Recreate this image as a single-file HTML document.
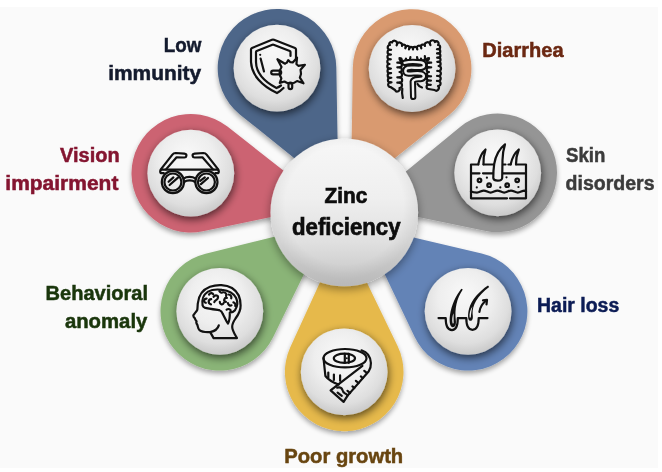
<!DOCTYPE html>
<html><head><meta charset="utf-8"><style>
html,body{margin:0;padding:0;background:#fff;}
svg{display:block;}
text{font-family:"Liberation Sans",sans-serif;font-weight:bold;}
.ic{fill:none;stroke:#111;stroke-width:2.2;stroke-linecap:round;}

</style></head><body>
<svg width="662" height="472" viewBox="0 0 662 472">
<defs>
<filter id="psh" x="-30%" y="-30%" width="160%" height="160%">
 <feGaussianBlur in="SourceAlpha" stdDeviation="2.5"/>
 <feOffset dx="0" dy="3" result="b"/>
 <feComponentTransfer><feFuncA type="linear" slope="0.35"/></feComponentTransfer>
 <feMerge><feMergeNode/><feMergeNode in="SourceGraphic"/></feMerge>
</filter>
<filter id="wsh" x="-40%" y="-40%" width="180%" height="180%">
 <feGaussianBlur in="SourceAlpha" stdDeviation="4.5"/>
 <feOffset dx="1.2" dy="3" result="b"/>
 <feComponentTransfer><feFuncA type="linear" slope="0.62"/></feComponentTransfer>
 <feMerge><feMergeNode/><feMergeNode in="SourceGraphic"/></feMerge>
</filter>
<filter id="csh" x="-40%" y="-40%" width="180%" height="180%">
 <feGaussianBlur in="SourceAlpha" stdDeviation="5"/>
 <feOffset dx="0" dy="3" result="b"/>
 <feComponentTransfer><feFuncA type="linear" slope="0.4"/></feComponentTransfer>
 <feMerge><feMergeNode/><feMergeNode in="SourceGraphic"/></feMerge>
</filter>
<radialGradient id="wg" cx="0.48" cy="0.4" r="0.62" fx="0.45" fy="0.28">
 <stop offset="0" stop-color="#f8f8f8"/>
 <stop offset="0.5" stop-color="#eeeeee"/>
 <stop offset="0.8" stop-color="#dedede"/>
 <stop offset="1" stop-color="#c6c6c6"/>
</radialGradient>
<linearGradient id="cg" x1="0" y1="0" x2="0" y2="1">
 <stop offset="0" stop-color="#f7f7f7"/>
 <stop offset="0.4" stop-color="#efefef"/>
 <stop offset="0.7" stop-color="#e0e0e0"/>
 <stop offset="0.9" stop-color="#cdcdcd"/>
 <stop offset="1" stop-color="#c4c4c4"/>
</linearGradient>
<radialGradient id="cg2" cx="0.5" cy="0.45" r="0.5">
 <stop offset="0.8" stop-color="#000" stop-opacity="0"/>
 <stop offset="1" stop-color="#000" stop-opacity="0.06"/>
</radialGradient>
</defs>
<rect x="0" y="0" width="662" height="472" fill="#ffffff"/>
<rect x="0" y="7" width="658" height="461" fill="#fafafa"/>

<path d="M344.30 212.50 L351.13 204.02 L239.81 114.39 A59.3 59.3 0 1 1 336.29 67.17 L338.83 212.60 Z" fill="#4e6689" filter="url(#psh)"/>
<path d="M344.30 212.50 L350.52 212.60 L352.81 67.56 A59.3 59.3 0 1 1 449.06 114.88 L337.41 203.85 Z" fill="#d99a70" filter="url(#psh)"/>
<path d="M344.30 212.50 L348.93 218.14 L460.09 126.95 A59.3 59.3 0 1 1 485.81 230.90 L346.38 202.36 Z" fill="#959595" filter="url(#psh)"/>
<path d="M344.30 212.50 L342.34 220.82 L481.67 253.57 A59.3 59.3 0 1 1 414.58 336.83 L353.23 208.24 Z" fill="#6483b6" filter="url(#psh)"/>
<path d="M344.30 212.50 L335.16 216.91 L397.59 346.10 A59.3 59.3 0 1 1 290.28 347.22 L350.63 215.40 Z" fill="#e6b94c" filter="url(#psh)"/>
<path d="M344.30 212.50 L336.06 208.47 L273.08 337.34 A59.3 59.3 0 1 1 205.57 253.73 L345.92 219.04 Z" fill="#8ab477" filter="url(#psh)"/>
<path d="M344.30 212.50 L342.18 202.29 L202.88 231.26 A59.3 59.3 0 1 1 227.41 126.55 L341.50 216.07 Z" fill="#cc6372" filter="url(#psh)"/>
<circle cx="277.0" cy="68.2" r="43.4" fill="url(#wg)" filter="url(#wsh)"/>
<circle cx="412.1" cy="68.5" r="43.4" fill="url(#wg)" filter="url(#wsh)"/>
<circle cx="497.7" cy="172.8" r="43.4" fill="url(#wg)" filter="url(#wsh)"/>
<circle cx="468.1" cy="311.3" r="43.4" fill="url(#wg)" filter="url(#wsh)"/>
<circle cx="344.2" cy="371.9" r="43.4" fill="url(#wg)" filter="url(#wsh)"/>
<circle cx="219.8" cy="311.3" r="43.4" fill="url(#wg)" filter="url(#wsh)"/>
<circle cx="190.8" cy="173.2" r="43.4" fill="url(#wg)" filter="url(#wsh)"/>
<circle cx="344.3" cy="212.5" r="73.8" fill="url(#cg)" filter="url(#csh)"/>
<circle cx="344.3" cy="212.5" r="73.8" fill="url(#cg2)"/>
<g class="ic">
<path d="M296 60 L296 49.5 Q296 48.4 295 48 L274 39.8 Q273 39.4 272 39.8 L252 48 Q251 48.4 251 49.5 L251 62 C251.5 75 262 86 277 93 C279 92 281 90.5 283.5 88"/>
<path d="M290.5 56 L290.5 52 Q290.5 51.3 289.8 51 L273.6 44.8 Q273 44.6 272.4 44.8 L256.7 51 Q256 51.3 256 52 L256 62 C256.2 72.5 264 81.5 276.5 88 C278 87.4 279.5 86.6 281 85.5"/>
<path d="M260.6 58.5 L264 71.5"/>
</g>
<circle cx="260.2" cy="54.8" r="1.1" fill="#111"/>
<g class="ic" fill="#f1f1f1" stroke-linejoin="round" stroke-width="2.1">
<rect x="271.2" y="70.7" width="10" height="3.7" rx="1.85"/>
<rect x="288.5" y="82.5" width="3.7" height="6.6" rx="1.85"/>
<path d="M281.54 66.98 L277.41 59.21 L284.99 63.69 A10.6 10.6 0 0 1 286.77 62.84 L288.18 60.19 L290.40 62.20 A10.6 10.6 0 0 1 292.73 62.46 L297.03 57.69 L296.43 64.09 A10.6 10.6 0 0 1 298.40 65.85 L304.92 64.75 L300.54 69.70 A10.6 10.6 0 0 1 299.87 77.56 L303.51 83.30 L297.11 81.00 A10.6 10.6 0 0 1 284.38 81.53 L279.79 82.83 L281.35 78.32 A10.6 10.6 0 0 1 281.54 66.98 Z"/>
</g>

<g class="ic" stroke-linejoin="round">
<path d="M471 164.5 L478.3 164.5 M483.5 164.5 L493.6 164.5 M502.6 164.5 L505.5 164.5 M508.4 164.5 L510.7 164.5 M516 164.5 L526 164.5 L526 198.3 L510 198.3 M507 198.3 L471 198.3 L471 164.5"/>
<path d="M471 173.3 L479.5 173.3 M483 173.3 L493.4 173.3 M502.3 173.3 L526 173.3"/>
<path d="M471 191.40 C473 192.60 475 192.60 477 192.60 C479.55 192.60 481.25 190.60 483.80 190.60 C486.35 190.60 488.05 192.60 490.60 192.60 C493.15 192.60 494.85 190.60 497.40 190.60 C499.95 190.60 501.65 192.60 504.20 192.60 C506.75 192.60 508.45 190.60 511.00 190.60 C513.55 190.60 515.25 192.60 517.80 192.60 C520.35 192.60 522.05 190.60 524.60 190.60 L526 191.60"/>
<path d="M478.3 164.3 C479.5 158 481.5 153 485.5 149.5 C484 154 483.3 159 483.5 164.3"/>
<path d="M510.7 164.3 C512 158 514.5 153 518.8 149.5 C517 154 515.8 159 516 164.3"/>
<path d="M505 144.3 C499 149 495.5 156 494.2 164 C493.5 169 493.2 174 493.3 178 C493.8 181.5 501.8 181.5 502.2 178 L502.5 160 C502.6 154 503.5 149 505 144.3 Z" fill="#f0f0f0"/>
<circle cx="479.5" cy="180.3" r="1.8"/><circle cx="489.1" cy="185.2" r="1.8"/><circle cx="507.2" cy="185.2" r="1.8"/><circle cx="517.2" cy="180.3" r="1.8"/>

</g>
<g fill="#111"><circle cx="486.9" cy="177.7" r="1.1"/><circle cx="476.8" cy="187.4" r="1.1"/><circle cx="500.3" cy="187.4" r="1.1"/><circle cx="506.5" cy="177.3" r="1.1"/><circle cx="518.4" cy="187" r="1.1"/></g>

<g class="ic" stroke-linejoin="round">
<path d="M438.5 318.1 L445.7 318.1 C445.7 326 448 330.2 452 330.2 C456 330.2 457.8 326 457.8 318.1 L466.3 318.1 C466.3 326 468.5 329.8 472.5 329.8 C476.5 329.8 478.7 326 478.7 318.1 L487.5 318.1"/>
<path d="M479.4 311.8 C480 307.5 482 304 485.6 301"/>
<path d="M483 300.4 L487 299.8 L486.5 304.4"/>
</g>
<g fill="#111">
<path d="M461.3 288.8 C456 295.5 451.5 305 450 315 C449.3 320 449.4 326.8 452.6 327.2 C455.8 327.4 456.3 323.5 455.8 320 C455.2 315 455.3 309 456.5 304 C457.6 299 459.8 294 462.8 289.6 Z"/>
<path d="M488 285.6 C479 291.5 471.5 300 469 309 C467.8 313.5 467.4 320.6 470.2 320.8 C473 321 473.2 317.5 472.6 314 C472.4 310 473.5 305 476 301 C479 296 483.5 291 489.2 287 Z"/>
</g>
<g fill="#f0f0f0">
<path d="M452.6 323.6 C451.8 320 452.2 316 453.6 313.2 C453.6 317 453.6 320.5 453.7 323.3 Z"/>
<path d="M469.6 317.6 C469.2 313.5 470.2 309.5 472.4 306.5 C471.6 310 471 314 470.8 317.5 Z"/>
</g>

<g class="ic" stroke-linejoin="round">
<ellipse cx="345" cy="358.2" rx="21.5" ry="9.2"/>
<ellipse cx="344.4" cy="358.3" rx="10.6" ry="4.6"/>
<path d="M344.8 353.8 L344.8 362.8 M348.8 353.8 L348.8 362.8"/>
<path d="M361.5 350.3 C367 352 370.5 357 370.9 363 C371 367 370.2 369.2 368.8 371.2 L347.6 395.6 L343.6 401.9 L330.6 390.4 L362.4 365.8"/>
<path d="M323.5 358.2 L325.4 376 C328.5 380 333.5 382.6 338.6 384.6"/>
<path d="M328.3 372.6 L328.3 377.8 M333.9 374.6 L333.9 380 M340.1 375.4 L340.1 380.8"/>
<path d="M366.90 373.00 L364.30 370.81 M362.70 378.00 L360.86 376.46 M358.50 383.00 L355.90 380.81 M354.30 388.00 L352.46 386.46 M350.10 393.00 L347.50 390.81"/>
<path d="M337.2 387.6 C339.5 387 341.5 387.8 342.2 389.5 C342.8 391.5 343.2 392.6 344.8 393.2 C346 393.6 347 394.4 347.6 395.6"/>
<path d="M337.6 392.6 L341.8 395.8"/>
</g>
<circle cx="346.8" cy="358.3" r="1" fill="#111"/>
<g class="ic" stroke-linejoin="round">
<path d="M213.6 338.1 L237 338.1 C235 334.5 232.4 331 232.2 327 C232 324 233.5 321.5 235.5 318.5 C238.5 314.5 240.8 310.5 240.6 305.5 C240.6 298.5 237.5 291.5 232 288 C226 284.4 217 284.2 210 286.8 C203 289.5 198.5 296 197.8 303.5 C197.6 305.5 197.6 307.5 197.3 309.8 C196.5 311.5 194.5 313.5 193.3 315.4 C193.2 316.5 194 317.6 194.9 318.4 C195 319.3 195.6 320.3 196.6 321.2 C195.8 322.5 196.5 323.8 197.4 325 C198 326.5 197.8 328.8 199.5 330.2 C201.5 331.8 205.5 332.4 210.2 332.1 Z"/>
<path d="M218.8 325.4 C217.8 329 214.5 331.2 210.2 332.1"/>
<path d="M202.6 305.4 C201.4 300 203.5 294.5 208 291.6 C212 289.4 217.5 289.2 222 289.8 C228 290.4 233.5 293.2 236 297.8 C237.8 301.5 237.5 306.5 235 310.2 C233.5 312 231.5 312.6 229.8 312.6 C229.9 316.5 229.6 320.5 228 323.6 C226 321 224.5 317 222.6 313.6 C222 311.6 221 310.6 219.5 310.2 C214 309.4 208 308.6 204.5 307.6 C203.5 307.2 203 306.5 202.6 305.4 Z"/>
<path d="M209 294.6 C210 292.8 212.5 292.6 213.2 294.2 M206.6 298.6 C203.6 298.6 203.2 302.2 205.8 302.8 M211.2 299.2 C208 299.4 207.8 303.8 211 304.3 M213.6 296.8 C215.5 294.4 218.6 295.4 217.9 298 C217.3 300.2 214.6 300 214.3 302.2 M219.4 291.2 C220.5 292.9 222 293.1 223 292.2 M226.9 297.9 C224 297.5 223.1 301.1 225.9 301.9 M219.8 301.9 C219.8 304.6 222.9 305.3 223.7 303 M228.6 294.5 C230.6 294.7 231.9 296.4 231.2 298.3 M227.9 303 C228.3 305.1 230 306.1 231.5 305.3 M233.4 302.4 C235 302.8 235.8 304.4 235.2 306 M226.6 309.6 C228.4 308.4 231.1 309.1 230.7 311.3 M224.6 292.5 C226 292.9 226.8 294.5 226 296.1"/>
</g>

<g class="ic" stroke-linejoin="round">
<path d="M163.8 173.2 L162 173.2 Q160.2 173.2 160.2 171.4 Q160.2 169.6 162 169.6 L217 169.6 Q218.8 169.6 218.8 171.4 Q218.8 173.2 217 173.2 L215.4 173.2"/>
<path d="M160.8 169.4 L172.4 154.6 Q173.6 153 175.6 153 L184.4 153.6 Q186.6 153.9 186.4 155.8 Q186.1 157.7 184 157.5 L176.6 157.3 L166 169.4"/>
<path d="M218.2 169.4 L206.6 154.6 Q205.4 153 203.4 153 L194.6 153.6 Q192.4 153.9 192.6 155.8 Q192.9 157.7 195 157.5 L202.4 157.3 L213 169.4"/>
<circle cx="172.9" cy="182" r="11.1"/><circle cx="172.9" cy="182" r="8.5"/>
<circle cx="206.4" cy="182" r="11.1"/><circle cx="206.4" cy="182" r="8.5"/>
<path d="M183.6 178.6 C186.5 176.4 192.5 176.4 195.6 178.6 M184 182 C187 179.8 192.2 179.8 195.2 182"/>
<path d="M168.6 181.8 L173.4 177.4 M169.6 185 L178 177.6 M200.2 180.8 L204.8 177.4 M200.9 184.2 L208 178"/>
</g>

<path class="ic" stroke-linejoin="round" stroke-width="2.4" d="M390.50 87.00 A2.30 2.30 0 0 1 390.30 82.40 A2.30 2.30 0 0 1 390.10 77.80 A2.30 2.30 0 0 1 389.90 73.20 A2.30 2.30 0 0 1 389.70 68.60 A2.30 2.30 0 0 1 389.50 64.00 A2.38 2.38 0 0 1 389.62 59.25 A2.38 2.38 0 0 1 389.75 54.50 A2.38 2.38 0 0 1 389.88 49.75 A2.38 2.38 0 0 1 390.00 45.00 A1.60 1.60 0 0 1 392.00 42.50 A2.65 2.65 0 0 1 397.00 44.25 A2.65 2.65 0 0 1 402.00 46.00 A1.92 1.92 0 0 1 405.67 47.17 A1.92 1.92 0 0 1 409.33 48.33 A1.92 1.92 0 0 1 413.00 49.50 A2.08 2.08 0 0 1 417.00 48.33 A2.08 2.08 0 0 1 421.00 47.17 A2.08 2.08 0 0 1 425.00 46.00 A2.69 2.69 0 0 1 430.00 44.00 A2.69 2.69 0 0 1 435.00 42.00 A2.12 2.12 0 0 1 438.00 45.00 A2.10 2.10 0 0 1 438.12 49.20 A2.10 2.10 0 0 1 438.24 53.40 A2.10 2.10 0 0 1 438.36 57.60 A2.10 2.10 0 0 1 438.48 61.80 A2.10 2.10 0 0 1 438.60 66.00 A2.50 2.50 0 0 1 438.45 71.00 A2.50 2.50 0 0 1 438.30 76.00 A2.50 2.50 0 0 1 438.15 81.00 A2.50 2.50 0 0 1 438.00 86.00 A2.66 2.66 0 0 1 434.50 90.00 L428.50 89.00 A2.13 2.13 0 0 1 428.62 84.75 A2.13 2.13 0 0 1 428.75 80.50 A2.13 2.13 0 0 1 428.88 76.25 A2.13 2.13 0 0 1 429.00 72.00 A2.33 2.33 0 0 1 429.00 67.33 A2.33 2.33 0 0 1 429.00 62.67 A2.33 2.33 0 0 1 429.00 58.00 A2.00 2.00 0 0 1 425.00 58.25 A2.00 2.00 0 0 1 421.00 58.50 A1.79 1.79 0 0 1 417.50 59.25 A1.79 1.79 0 0 1 414.00 60.00 A2.03 2.03 0 0 1 410.00 59.25 A2.03 2.03 0 0 1 406.00 58.50 A3.26 3.26 0 0 1 399.50 58.00 A2.33 2.33 0 0 1 399.50 62.67 A2.33 2.33 0 0 1 399.50 67.33 A2.33 2.33 0 0 1 399.50 72.00 A2.67 2.67 0 0 1 399.50 77.33 A2.67 2.67 0 0 1 399.50 82.67 A2.67 2.67 0 0 1 399.50 88.00 A2.46 2.46 0 0 1 395.00 90.00 L390.50 87.00 Z"/><path class="ic" d=" M390.30 82.40 L391.51 82.35 M390.10 77.80 L391.31 77.75 M389.90 73.20 L391.11 73.15 M389.70 68.60 L390.91 68.55 M389.62 59.25 L390.83 59.28 M389.75 54.50 L390.96 54.53 M389.88 49.75 L391.08 49.78 M397.00 44.25 L396.60 45.39 M405.67 47.17 L405.30 48.32 M409.33 48.33 L408.97 49.49 M417.00 48.33 L417.34 49.49 M421.00 47.17 L421.34 48.33 M430.00 44.00 L430.45 45.12 M438.12 49.20 L436.91 49.23 M438.24 53.40 L437.03 53.43 M438.36 57.60 L437.15 57.63 M438.48 61.80 L437.27 61.83 M438.45 71.00 L437.24 70.96 M438.30 76.00 L437.09 75.96 M438.15 81.00 L436.94 80.96 M428.62 84.75 L430.82 84.81 M428.75 80.50 L430.95 80.56 M428.88 76.25 L431.07 76.31 M429.00 67.33 L431.20 67.33 M429.00 62.67 L431.20 62.67 M425.00 58.25 L424.86 56.05 M417.50 59.25 L417.04 57.10 M410.00 59.25 L410.41 57.09 M399.50 62.67 L397.30 62.67 M399.50 67.33 L397.30 67.33 M399.50 77.33 L397.30 77.33 M399.50 82.67 L397.30 82.67"/><g fill="none" stroke-linecap="round" stroke-linejoin="round">
<path d="M404.5 62.8 C410 61.5 416 61.8 421 62.5 C425 63.2 425 67.5 421 67.8 C416 68.2 411 67 407.5 68 C404.2 69.5 404.8 73.5 408.5 73.6 C413 73.7 418 72.6 421.5 73.6 C425 75 424.5 78.6 420.5 79 C417 79.4 413.5 78.8 412.8 81.5 L413.2 96.8" stroke="#111" stroke-width="6.4"/>
<path d="M404.5 62.8 C410 61.5 416 61.8 421 62.5 C425 63.2 425 67.5 421 67.8 C416 68.2 411 67 407.5 68 C404.2 69.5 404.8 73.5 408.5 73.6 C413 73.7 418 72.6 421.5 73.6 C425 75 424.5 78.6 420.5 79 C417 79.4 413.5 78.8 412.8 81.5 L413.2 96.8" stroke="#f0f0f0" stroke-width="2.4"/>
<path d="M417.5 84 C418.5 86 420 87 422 87.5 M402.3 88.5 C401.8 92 402 95 402.8 98" stroke="#111" stroke-width="2.2"/>
</g>

<text x="163.80" y="52.20" fill="#141b2e" stroke="#141b2e" stroke-width="0.5" font-size="20.3" textLength="37.60" lengthAdjust="spacingAndGlyphs">Low</text>
<text x="108.20" y="80.20" fill="#141b2e" stroke="#141b2e" stroke-width="0.5" font-size="20.3" textLength="93.00" lengthAdjust="spacingAndGlyphs">immunity</text>
<text x="482.20" y="56.80" fill="#6b2812" stroke="#6b2812" stroke-width="0.5" font-size="20.3" textLength="81.40" lengthAdjust="spacingAndGlyphs">Diarrhea</text>
<text x="566.00" y="161.80" fill="#3b3b3b" stroke="#3b3b3b" stroke-width="0.5" font-size="20.3" textLength="39.30" lengthAdjust="spacingAndGlyphs">Skin</text>
<text x="565.60" y="189.90" fill="#3b3b3b" stroke="#3b3b3b" stroke-width="0.5" font-size="20.3" textLength="88.90" lengthAdjust="spacingAndGlyphs">disorders</text>
<text x="537.00" y="311.90" fill="#0c1c55" stroke="#0c1c55" stroke-width="0.5" font-size="20.3" textLength="82.20" lengthAdjust="spacingAndGlyphs">Hair loss</text>
<text x="284.30" y="462.60" fill="#684510" stroke="#684510" stroke-width="0.5" font-size="20.3" textLength="118.90" lengthAdjust="spacingAndGlyphs">Poor growth</text>
<text x="45.60" y="300.20" fill="#1a360c" stroke="#1a360c" stroke-width="0.5" font-size="20.3" textLength="102.50" lengthAdjust="spacingAndGlyphs">Behavioral</text>
<text x="64.90" y="327.90" fill="#1a360c" stroke="#1a360c" stroke-width="0.5" font-size="20.3" textLength="82.50" lengthAdjust="spacingAndGlyphs">anomaly</text>
<text x="60.00" y="161.70" fill="#841530" stroke="#841530" stroke-width="0.5" font-size="20.3" textLength="59.60" lengthAdjust="spacingAndGlyphs">Vision</text>
<text x="5.30" y="189.60" fill="#841530" stroke="#841530" stroke-width="0.5" font-size="20.3" textLength="113.10" lengthAdjust="spacingAndGlyphs">impairment</text>
<text x="324.60" y="202.60" fill="#0d0d0d" stroke="#0d0d0d" stroke-width="0.7" font-size="22.6" textLength="42.80" lengthAdjust="spacingAndGlyphs">Zinc</text>
<text x="292.00" y="234.60" fill="#0d0d0d" stroke="#0d0d0d" stroke-width="0.7" font-size="23.5" textLength="108.50" lengthAdjust="spacingAndGlyphs">deficiency</text>
</svg>
</body></html>
